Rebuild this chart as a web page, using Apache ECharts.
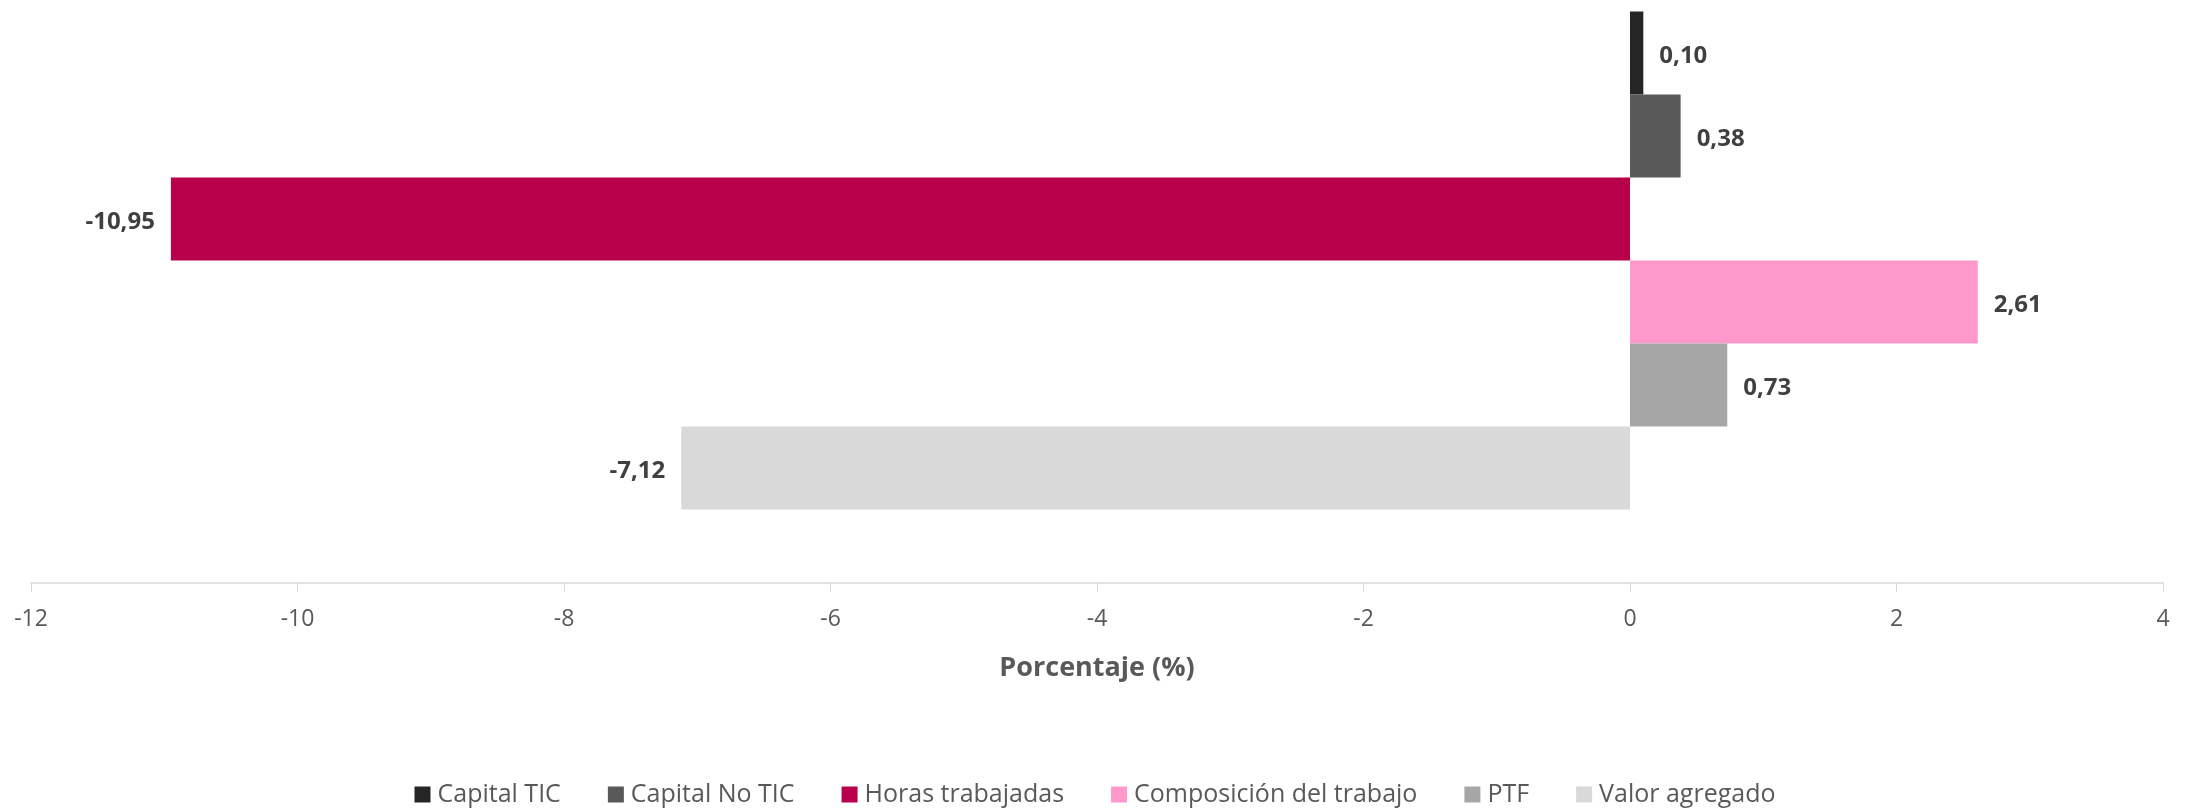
<!DOCTYPE html>
<html>
<head>
<meta charset="utf-8">
<script src="https://cdn.jsdelivr.net/npm/echarts@6/dist/echarts.min.js"></script>
<style>
  html, body { margin: 0; padding: 0; background: #fff; }
  #chart { width: 2190px; height: 808px; }
</style>
</head>
<body>
<div id="chart"></div>
<script>
// datos del gráfico
var seriesNames = ["Capital TIC", "Capital No TIC", "Horas trabajadas", "Composición del trabajo", "PTF", "Valor agregado"];
var seriesValues = [0.10, 0.38, -10.95, 2.61, 0.73, -7.12];
var seriesColors = ["#262626", "#595959", "#B8004A", "#FF99CC", "#A6A6A6", "#D9D9D9"];
var categories = ["Total"];

var chart = echarts.init(document.getElementById("chart"));

var series = seriesNames.map(function (name, i) {
  var v = seriesValues[i];
  return {
    name: name,
    type: "bar",
    data: [v],
    barWidth: 83,
    barGap: "0%",
    itemStyle: { color: seriesColors[i] },
    label: {
      show: true,
      position: v < 0 ? "left" : "right",
      distance: 16,
      offset: [0, 3],
      color: "#404040",
      fontFamily: "Open Sans",
      fontWeight: "bold",
      fontSize: 24,
      formatter: function (p) {
        return p.value.toFixed(2).replace(".", ",");
      }
    }
  };
});

var option = {
  animation: false,
  backgroundColor: "#ffffff",
  textStyle: { fontFamily: "Open Sans" },
  // la rejilla acaba en 521 y el eje x se desplaza hasta y=583
  grid: { left: 31, right: 27, top: 0, bottom: 287, containLabel: false },
  legend: {
    data: seriesNames,
    top: 777,
    left: "center",
    icon: "rect",
    itemWidth: 16,
    itemHeight: 16,
    itemGap: 47,
    textStyle: { color: "#595959", fontSize: 25, fontFamily: "Open Sans", padding: [0, 0, 0, 2] }
  },
  xAxis: {
    type: "value",
    position: "bottom",
    offset: 62,
    min: -12,
    max: 4,
    interval: 2,
    name: "Porcentaje (%)",
    nameLocation: "middle",
    nameGap: 72,
    nameTextStyle: { color: "#595959", fontSize: 27, fontWeight: "bold", fontFamily: "Open Sans" },
    splitLine: { show: false },
    axisLine: { show: true, lineStyle: { color: "#D9D9D9", width: 1.5 } },
    axisTick: { show: true, length: 9, lineStyle: { color: "#D9D9D9" } },
    axisLabel: { color: "#595959", fontSize: 23, margin: 25 }
  },
  yAxis: {
    type: "category",
    data: categories,
    inverse: true,
    axisLine: { show: false },
    axisTick: { show: false },
    axisLabel: { show: false },
    splitLine: { show: false }
  },
  series: series
};

chart.setOption(option);
</script>
</body>
</html>
